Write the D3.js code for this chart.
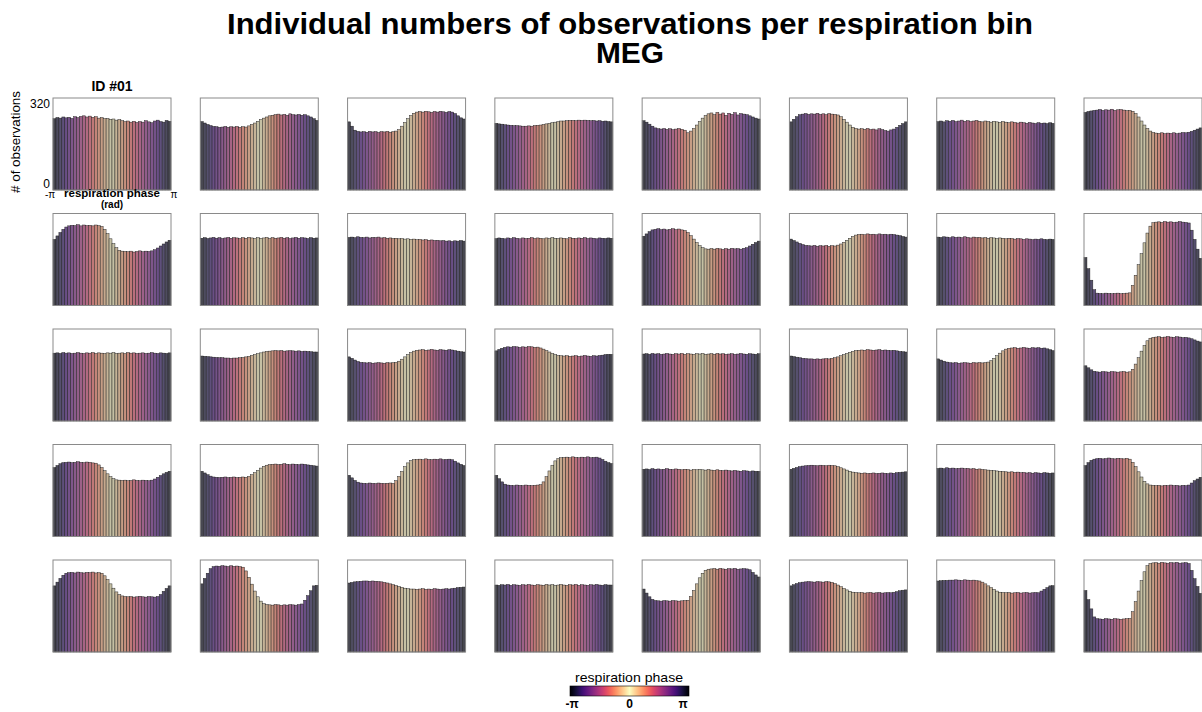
<!DOCTYPE html>
<html><head><meta charset="utf-8">
<script src="https://cdn.jsdelivr.net/npm/d3@7"></script>
<style>body{margin:0;background:#fff}text{font-family:"Liberation Sans",Arial,sans-serif;fill:#000}</style>
</head><body><svg id="c" width="1202" height="712"></svg>
<script>
// ---------------- data ----------------
const nBins = 40;
const yDomain = [0, 320];
const yTickValues = [0, 320];
const phaseTickLabels = ["-π", "0", "π"];
const titleLines = ["Individual numbers of observations per respiration bin", "MEG"];
const firstId = "ID #01";

const s01=[248,252,250,254,251,253,249,255,252,256,258,254,257,253,255,250,252,248,249,246,247,243,245,241,238,240,236,239,235,238,236,241,237,234,240,243,238,236,242,239];
const s02=[238,233,228,224,221,220,218,219,221,218,220,219,221,218,220,219,223,228,233,239,245,250,254,258,260,262,264,261,263,260,265,262,261,263,260,262,258,254,248,242];
const s03=[237,222,208,204,202,203,201,204,202,203,200,203,202,204,201,203,205,210,222,235,248,259,267,271,273,271,274,272,270,273,271,274,272,270,273,271,266,258,251,247];
const s04=[232,230,229,227,226,225,224,224,223,222,222,223,222,224,225,226,228,230,232,234,236,238,240,240,241,242,242,241,243,242,243,242,241,242,240,241,239,240,238,237];
const s05=[241,236,229,222,216,213,212,214,211,213,210,212,214,211,208,199,205,214,226,238,250,259,265,268,262,270,264,268,260,267,263,269,261,266,264,262,258,254,250,247];
const s06=[237,246,255,262,264,266,263,265,264,267,263,265,262,266,264,263,261,255,246,236,226,218,214,212,213,211,214,210,212,209,213,210,207,205,209,212,218,225,231,237];
const s07=[238,240,237,241,239,242,238,240,243,239,241,238,240,242,239,237,240,238,236,239,237,235,238,236,234,237,235,233,236,234,232,235,233,231,234,232,233,231,234,232];
const s08=[270,273,275,277,278,280,277,279,278,281,277,279,280,278,276,277,274,266,254,240,226,214,205,200,198,197,199,196,198,197,199,196,198,200,199,201,204,208,212,216];
const s09=[230,242,254,265,273,277,279,278,281,277,280,278,279,277,280,278,275,265,250,232,215,201,192,189,188,187,189,186,188,190,187,189,188,190,194,200,207,214,221,227];
const s10=[234,236,233,235,237,234,236,233,235,237,234,236,235,233,236,234,237,235,233,236,234,235,237,233,236,234,235,237,234,236,233,235,237,234,236,235,233,236,234,235];
const s11=[237,238,236,239,237,236,238,235,237,236,238,235,236,234,235,233,234,232,233,231,232,230,231,229,230,228,229,227,228,226,227,225,226,224,225,223,225,224,226,224];
const s12=[233,235,234,232,235,233,236,234,232,235,233,234,236,233,235,234,232,235,233,236,234,233,235,234,232,236,234,233,235,234,236,233,235,234,232,235,234,233,235,234];
const s13=[241,249,257,263,265,267,264,266,263,265,267,264,266,263,261,254,243,231,219,208,201,197,196,198,196,199,197,195,198,196,199,197,198,196,199,201,207,213,219,224];
const s14=[231,226,221,216,212,209,208,207,209,206,208,207,209,206,208,207,210,214,220,227,234,240,245,247,248,246,249,247,248,246,249,247,248,246,248,247,245,243,240,238];
const s15=[238,237,239,238,236,239,237,238,236,239,237,235,238,236,237,235,236,234,236,235,233,235,234,232,234,233,231,233,232,230,232,231,229,231,230,232,230,229,231,230];
const s16=[167,128,88,55,43,42,41,43,42,41,42,43,41,42,43,44,70,105,142,180,218,252,276,288,290,291,289,292,290,291,289,290,292,290,289,287,262,230,196,164];
const s17=[236,237,235,238,236,237,235,236,238,236,235,237,236,238,235,237,236,235,237,236,238,235,236,237,235,238,236,237,235,236,237,235,236,238,236,235,237,236,235,237];
const s18=[226,225,224,223,222,221,220,220,219,219,218,219,219,220,221,223,225,228,231,234,237,240,242,243,244,245,244,245,243,244,245,244,243,244,242,243,242,241,240,240];
const s19=[223,218,212,207,204,203,202,203,201,202,203,202,201,203,202,203,204,208,215,223,231,238,243,246,247,248,246,247,249,247,246,248,247,246,248,247,245,243,241,240];
const s20=[244,249,253,256,258,257,259,258,256,258,257,259,258,256,257,254,250,245,240,235,231,228,227,226,227,225,226,227,225,226,228,226,225,227,226,228,229,231,232,232];
const s21=[233,234,232,235,233,234,232,233,235,233,232,234,233,235,232,234,233,232,234,233,235,232,233,234,232,235,233,234,232,233,234,232,233,235,233,232,234,233,232,234];
const s22=[226,224,222,220,218,217,216,216,215,216,215,216,217,216,218,220,223,227,231,235,239,242,245,246,247,246,248,247,246,247,248,246,247,246,245,246,244,242,241,240];
const s23=[216,212,208,205,203,202,203,201,202,203,202,201,203,202,203,202,203,205,210,218,227,236,244,250,253,254,255,253,254,256,254,253,255,254,255,253,254,251,248,245];
const s24=[192,185,178,173,171,170,172,171,170,172,171,170,171,172,170,171,180,198,220,243,263,279,288,291,292,293,291,292,294,292,291,293,292,290,291,289,286,282,278,275];
const s25=[240,247,253,257,258,259,257,258,260,258,257,259,258,256,255,249,240,229,218,208,201,197,196,195,196,194,195,197,195,194,196,195,194,196,200,206,212,218,223,227];
const s26=[227,221,215,210,207,206,205,206,207,205,206,207,205,206,207,206,209,215,222,230,238,244,248,250,251,252,250,251,253,251,250,252,251,250,252,251,249,248,246,245];
const s27=[213,204,195,189,186,185,184,186,185,184,186,185,184,185,186,185,194,209,226,243,256,264,267,268,269,267,270,268,267,269,268,270,267,268,269,267,262,256,251,247];
const s28=[213,201,190,182,179,178,177,179,178,177,179,178,177,178,179,180,190,208,228,248,263,271,274,275,276,274,277,275,274,276,275,277,274,275,276,273,268,262,257,254];
const s29=[234,235,233,236,234,235,233,234,236,234,233,235,234,232,234,233,231,233,232,234,232,231,233,231,230,232,230,229,231,229,228,230,228,227,229,228,226,228,227,227];
const s30=[234,237,240,243,245,246,247,248,247,246,248,247,246,248,247,246,243,239,235,231,227,224,222,221,220,221,219,220,221,219,220,221,220,219,221,220,222,223,224,225];
const s31=[237,238,236,239,237,238,236,237,238,236,237,235,236,234,235,233,232,231,230,229,228,227,226,225,224,225,223,224,222,223,221,222,220,222,221,220,222,221,220,221];
const s32=[247,257,265,269,271,272,270,271,273,271,270,272,271,270,272,269,258,243,225,207,192,183,179,178,177,178,176,178,177,179,177,178,176,178,177,179,186,194,200,206];
const s33=[230,243,256,267,274,276,277,275,278,276,275,277,276,278,275,276,274,265,252,237,222,209,200,195,193,192,193,191,192,194,192,191,193,192,191,193,200,211,221,230];
const s34=[237,256,274,290,297,299,298,300,299,297,300,298,299,297,295,282,260,236,212,192,177,168,165,164,163,165,164,162,164,163,165,164,163,165,167,180,196,213,230,232];
const s35=[240,242,244,245,246,247,247,246,247,246,245,244,242,240,237,234,231,228,225,222,220,219,219,218,219,220,218,219,218,220,219,218,219,220,219,221,222,224,225,226];
const s36=[233,232,234,233,235,232,234,233,232,234,233,235,233,232,234,233,232,235,233,234,232,233,235,233,232,234,233,235,232,234,233,232,234,233,235,233,232,234,233,233];
const s37=[219,205,192,183,179,178,177,179,178,177,179,178,177,178,179,180,193,214,237,258,274,284,288,289,290,288,291,289,288,290,289,291,288,289,290,289,286,277,268,261];
const s38=[230,234,238,241,243,244,245,244,243,245,244,243,245,244,242,238,233,227,221,216,211,208,207,206,207,205,206,207,205,206,207,205,206,207,206,208,210,213,215,216];
const s39=[247,248,249,249,250,250,251,250,249,251,250,249,250,248,247,243,237,230,224,218,212,208,207,206,207,205,206,207,205,206,207,205,206,207,206,212,218,224,230,231];
const s40=[214,182,150,122,116,115,114,116,115,114,116,115,114,115,116,117,140,175,212,248,279,300,308,310,311,309,312,310,309,311,310,312,309,310,311,308,284,255,228,204];

const subjects=[s01,s02,s03,s04,s05,s06,s07,s08,s09,s10,s11,s12,s13,s14,s15,s16,s17,s18,s19,s20,
                s21,s22,s23,s24,s25,s26,s27,s28,s29,s30,s31,s32,s33,s34,s35,s36,s37,s38,s39,s40];

// ---------------- layout ----------------
const nCols = 8, nRows = 5;
const pw = 118, ph = 92;
const colScale = d3.scaleLinear().domain([0, nCols-1]).range([53, 1084]);
const rowScale = d3.scaleLinear().domain([0, nRows-1]).range([98, 560]);

const svg = d3.select("#c");

const phaseColor = t => d3.interpolateMagma(1 - Math.abs(t)/Math.PI);
const barColor = t => d3.interpolateRgb(phaseColor(t), "#8e8e94")(0.5);

const x = d3.scaleBand().domain(d3.range(nBins)).range([0, pw]).padding(0);
const binPhase = i => -Math.PI + (i + 0.5) * 2 * Math.PI / nBins;
const y = d3.scaleLinear().domain(yDomain).range([ph, 0]);

// title
svg.append("text").attr("x", 630).attr("y", 34).attr("text-anchor","middle")
  .attr("font-size", 29).attr("font-weight","bold")
  .attr("textLength", 806).attr("lengthAdjust","spacingAndGlyphs").text(titleLines[0]);
svg.append("text").attr("x", 630).attr("y", 63).attr("text-anchor","middle")
  .attr("font-size", 29).attr("font-weight","bold")
  .attr("textLength", 68).attr("lengthAdjust","spacingAndGlyphs").text(titleLines[1]);

subjects.forEach((vals, k) => {
  const c = k % nCols, r = Math.floor(k / nCols);
  const g = svg.append("g").attr("transform", `translate(${colScale(c)},${rowScale(r)})`);
  g.selectAll("rect.bar").data(vals).join("rect").attr("class","bar")
    .attr("x", (d,i) => x(i)).attr("width", x.bandwidth())
    .attr("y", d => y(d)).attr("height", d => y(0) - y(d))
    .attr("fill", (d,i) => barColor(binPhase(i)))
    .attr("stroke", "#1c1c1c").attr("stroke-width", 0.45);
  g.append("rect").attr("x",0).attr("y",0).attr("width",pw).attr("height",ph)
    .attr("fill","none").attr("stroke","#8a8a8a").attr("stroke-width",1);

  if (k === 0) {
    const ax = g.append("g").call(d3.axisLeft(y).tickValues(yTickValues).tickSize(0).tickPadding(3));
    ax.select(".domain").remove();
    ax.selectAll("text").attr("font-size", 12).attr("font-family","Liberation Sans, Arial, sans-serif")
      .attr("dy", (d) => d === 0 ? "-0.2em" : "0.75em").attr("fill","#000");
    g.append("text").attr("x", pw/2).attr("y", -7).attr("text-anchor","middle")
      .attr("font-size", 14).attr("font-weight","bold").text(firstId);
    g.append("text").attr("transform", `translate(-33,${ph/2 - 2}) rotate(-90)`).attr("text-anchor","middle")
      .attr("font-size", 13).attr("textLength", 102).attr("lengthAdjust","spacingAndGlyphs").text("# of observations");
    const xp = d3.scaleLinear().domain([-Math.PI, Math.PI]).range([0, pw]);
    g.append("text").attr("x", xp(-Math.PI)-3).attr("y", ph+8).attr("text-anchor","middle")
      .attr("font-size", 10).text(phaseTickLabels[0]);
    g.append("text").attr("x", xp(Math.PI)+3).attr("y", ph+8).attr("text-anchor","middle")
      .attr("font-size", 10).text(phaseTickLabels[2]);
    g.append("text").attr("x", pw/2).attr("y", ph+7).attr("text-anchor","middle")
      .attr("font-size", 10.5).attr("font-weight","bold").attr("textLength", 96).attr("lengthAdjust","spacingAndGlyphs").text("respiration phase");
    g.append("text").attr("x", pw/2).attr("y", ph+17.5).attr("text-anchor","middle")
      .attr("font-size", 10).attr("font-weight","bold").text("(rad)");
  }
});

// colour bar legend
const lg = svg.append("g").attr("transform","translate(570,686)");
const lw = 119, lh = 10;
const defs = svg.append("defs");
const grad = defs.append("linearGradient").attr("id","cbar");
d3.range(0, 1.0001, 0.02).forEach(f => {
  grad.append("stop").attr("offset", f).attr("stop-color", phaseColor(-Math.PI + f*2*Math.PI));
});
lg.append("rect").attr("width", lw).attr("height", lh).attr("fill","url(#cbar)").attr("stroke","#000").attr("stroke-width",0.6);
svg.append("text").attr("x", 629).attr("y", 682).attr("text-anchor","middle")
  .attr("font-size", 13).attr("textLength", 108).attr("lengthAdjust","spacingAndGlyphs").text("respiration phase");
const lx = d3.scaleLinear().domain([-Math.PI, Math.PI]).range([0, lw]);
lg.selectAll("text.tl").data([-Math.PI, 0, Math.PI]).join("text").attr("class","tl")
  .attr("x", (d,i) => lx(d) + [2, 0, -6][i]).attr("y", 22).attr("text-anchor","middle")
  .attr("font-size", 12).attr("font-weight","bold").text((d,i) => phaseTickLabels[i]);
</script></body></html>
